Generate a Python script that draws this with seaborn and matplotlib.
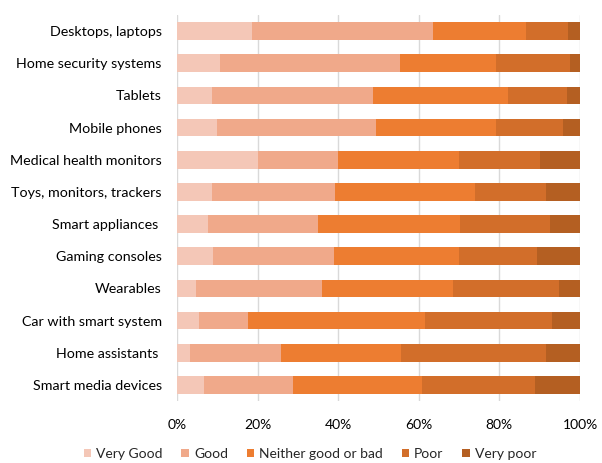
import matplotlib
matplotlib.use("Agg")
import matplotlib.pyplot as plt
import seaborn as sns
import pandas as pd
import numpy as np
from matplotlib.patches import Patch
from matplotlib.ticker import PercentFormatter

categories = ["Desktops, laptops", "Home security systems", "Tablets", "Mobile phones",
              "Medical health monitors", "Toys, monitors, trackers", "Smart appliances ",
              "Gaming consoles", "Wearables", "Car with smart system", "Home assistants ",
              "Smart media devices"]
very_good = [18.6, 10.6, 8.6, 9.9, 20.0, 8.8, 7.6, 8.9, 4.6, 5.4, 3.2, 6.8]
good = [44.8, 44.7, 40.0, 39.5, 20.0, 30.4, 27.5, 30.0, 31.5, 12.2, 22.6, 21.9]
neither = [23.2, 23.9, 33.5, 29.7, 30.0, 34.7, 35.1, 31.0, 32.4, 43.9, 29.8, 32.0]
poor = [10.5, 18.4, 14.7, 16.7, 20.0, 17.6, 22.4, 19.5, 26.3, 31.5, 35.9, 28.1]
very_poor = [2.9, 2.4, 3.2, 4.2, 10.0, 8.5, 7.4, 10.6, 5.2, 7.0, 8.5, 11.2]
series_names = ["Very Good", "Good", "Neither good or bad", "Poor", "Very poor"]
colors = ["#F4C7B7", "#F0A98A", "#ED7D31", "#D26E2A", "#B45F22"]

sns.set_theme(style="white")
plt.rcParams["font.family"] = ["Lato", "DejaVu Sans"]

df = pd.DataFrame({"category": categories, "Very Good": very_good, "Good": good,
                   "Neither good or bad": neither, "Poor": poor, "Very poor": very_poor})
vals = df[series_names].to_numpy(dtype=float)
totals = vals.sum(axis=1, keepdims=True)
cum = np.cumsum(vals / totals * 100, axis=1)

fig = plt.figure(figsize=(6.02, 4.63), dpi=100)
ax = fig.add_axes([177/602, 1 - 401/463, (580-177)/602, (401-15)/463])

for i in reversed(range(len(series_names))):
    d = pd.DataFrame({"category": categories, "value": cum[:, i]})
    sns.barplot(data=d, y="category", x="value", color=colors[i], orient="h",
                width=0.55, saturation=1, ax=ax, linewidth=0)

ax.set_xlim(0, 100)
ax.set_ylim(len(categories) - 0.5, -0.5)
ax.xaxis.set_major_formatter(PercentFormatter(decimals=0))
ax.set_xticks([0, 20, 40, 60, 80, 100])
ax.grid(axis="x", color="#D9D9D9", linewidth=1)
ax.set_axisbelow(True)
for s in ax.spines.values():
    s.set_visible(False)
ax.set_xlabel("")
ax.set_ylabel("")
ax.tick_params(axis="both", length=0, colors="black")
ax.tick_params(axis="x", pad=13, labelsize=10)
ax.tick_params(axis="y", pad=11, labelsize=10.3)

handles = [Patch(facecolor=c, edgecolor="none") for c in colors]
fig.legend(handles, series_names, loc="center", bbox_to_anchor=(310/602, 1 - 454/463),
           ncol=5, frameon=False, fontsize=10, handlelength=0.55, handleheight=0.55,
           handletextpad=0.35, columnspacing=1.35)

fig.savefig("out.png", dpi=100)
